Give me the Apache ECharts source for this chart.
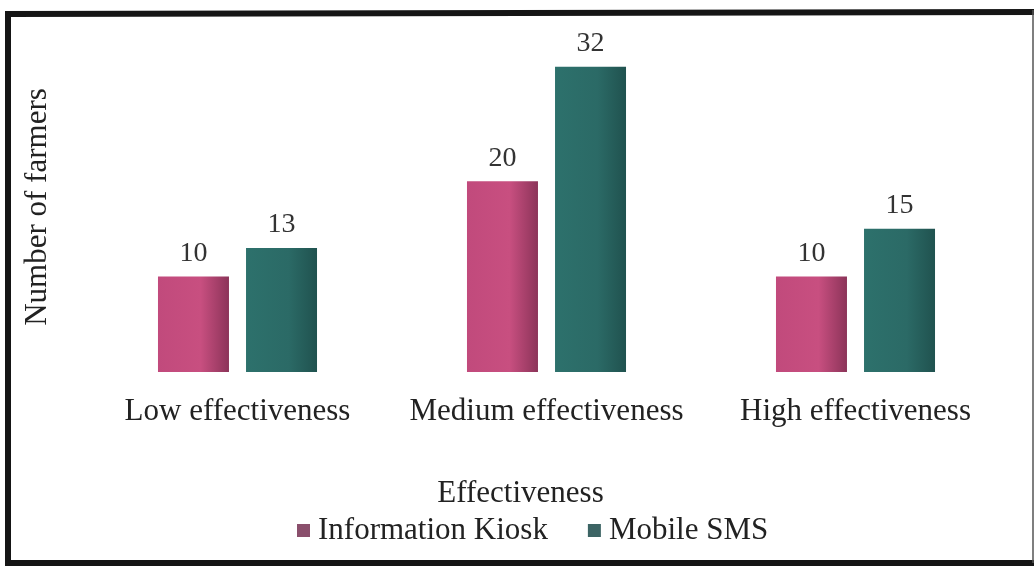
<!DOCTYPE html>
<html>
<head>
<meta charset="utf-8">
<script src="https://cdn.jsdelivr.net/npm/echarts@6/dist/echarts.min.js"></script>
<style>
  html, body { margin: 0; padding: 0; background: #ffffff; }
  #chart { width: 1035px; height: 566px; }
</style>
</head>
<body>
<div id="chart"></div>
<script>
// Effectiveness of information channels, by number of farmers
const categories = ['Low effectiveness', 'Medium effectiveness', 'High effectiveness'];
const seriesNames = ['Information Kiosk', 'Mobile SMS'];
const kioskValues = [10, 20, 10];
const smsValues = [13, 32, 15];

const SERIF = '"Liberation Serif", "DejaVu Serif", serif';

function barGradient(left, mid, right) {
  return new echarts.graphic.LinearGradient(0, 0, 1, 0, [
    { offset: 0, color: left },
    { offset: 0.6, color: mid },
    { offset: 1, color: right }
  ]);
}

const chart = echarts.init(document.getElementById('chart'), null, { renderer: 'canvas' });

chart.setOption({
  backgroundColor: '#ffffff',
  animation: false,
  grid: { left: 83, width: 927, top: 38, height: 334 },
  xAxis: {
    type: 'category',
    data: categories,
    axisLine: { show: false },
    axisTick: { show: false },
    axisLabel: {
      interval: 0,
      hideOverlap: false,
      margin: 24,
      fontFamily: SERIF,
      fontSize: 31,
      color: '#222222'
    },
    name: 'Effectiveness',
    nameLocation: 'middle',
    nameGap: 106,
    nameTextStyle: {
      fontFamily: SERIF,
      fontSize: 31,
      color: '#222222',
      padding: [0, 52, 0, 0]
    }
  },
  yAxis: {
    type: 'value',
    min: 0,
    max: 35,
    show: false
  },
  legend: {
    top: 510,
    left: 292,
    itemWidth: 13,
    itemHeight: 13,
    itemGap: 40,
    icon: 'rect',
    textStyle: {
      fontFamily: SERIF,
      fontSize: 31,
      color: '#222222',
      padding: [0, 0, 0, 3]
    },
    data: [
      { name: seriesNames[0], itemStyle: { color: '#8a4f6c' } },
      { name: seriesNames[1], itemStyle: { color: '#3c6464' } }
    ]
  },
  graphic: [
    {
      type: 'text',
      x: 38,
      y: 207,
      rotation: Math.PI / 2,
      style: {
        text: 'Number of farmers',
        font: '31px ' + SERIF,
        fill: '#222222',
        align: 'center',
        verticalAlign: 'middle'
      }
    },
    // frame: heavy top, left and bottom edges, thin right edge
    {
      type: 'polyline',
      silent: true,
      shape: { points: [[1034, 12], [8, 14], [8, 563], [1034, 563]] },
      style: { fill: 'none', stroke: '#151515', lineWidth: 6 }
    },
    {
      type: 'line',
      silent: true,
      shape: { x1: 1033, y1: 10, x2: 1033, y2: 563 },
      style: { stroke: '#555555', lineWidth: 1.5 }
    }
  ],
  series: [
    {
      name: seriesNames[0],
      type: 'bar',
      data: kioskValues,
      barWidth: 71,
      barGap: '24%',
      itemStyle: { color: barGradient('#c14a7c', '#c84f80', '#8c3459') },
      label: {
        show: true,
        position: 'top',
        distance: 9,
        fontFamily: SERIF,
        fontSize: 28,
        color: '#333333'
      }
    },
    {
      name: seriesNames[1],
      type: 'bar',
      data: smsValues,
      barWidth: 71,
      itemStyle: { color: barGradient('#2d716c', '#2b6a66', '#20524f') },
      label: {
        show: true,
        position: 'top',
        distance: 9,
        fontFamily: SERIF,
        fontSize: 28,
        color: '#333333'
      }
    }
  ]
});
</script>
</body>
</html>
